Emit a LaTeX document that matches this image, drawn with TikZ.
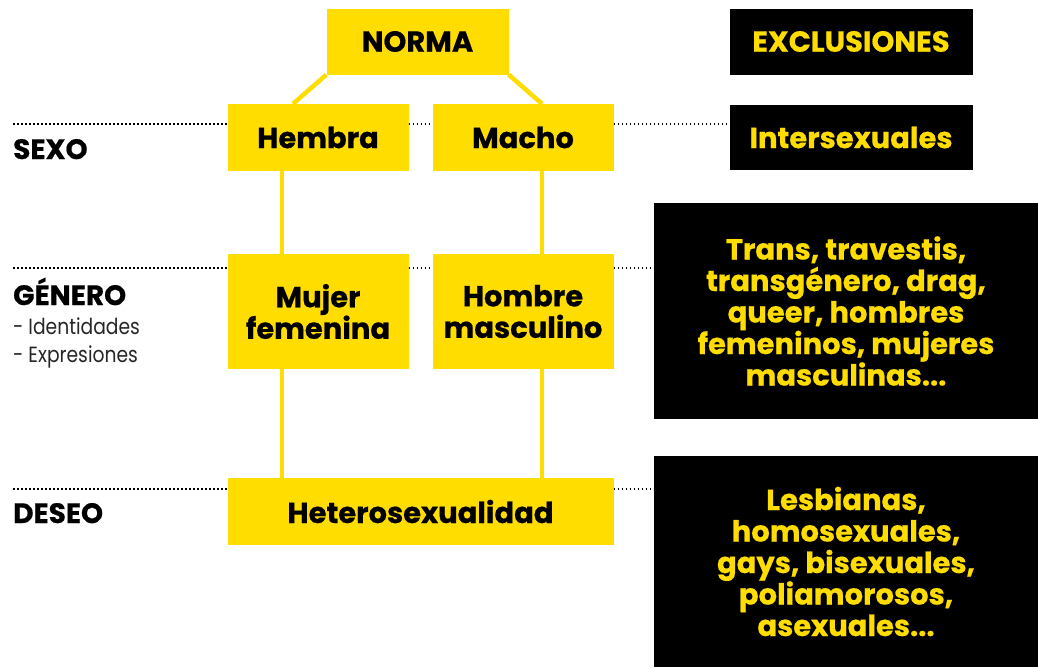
\documentclass[tikz,border=0pt]{standalone}
\usepackage{fontspec}
\setmainfont{Poppins}[BoldFeatures={FakeBold=0.6}]
\newfontfamily\finafont{Poppins}[FakeStretch=0.85]
\definecolor{amarillo}{RGB}{255,221,0}

\begin{document}
\begin{tikzpicture}[x=1pt,y=-1pt,
  normbox/.style={fill=amarillo, text=black, inner sep=0pt, align=center,
    font=\fontsize{29}{31.5}\selectfont\bfseries},
  exclbox/.style={fill=black, text=amarillo, inner sep=0pt, align=center,
    font=\fontsize{29}{31.5}\selectfont\bfseries},
  link/.style={draw=amarillo, line width=4.5pt},
  dots/.style={draw=black, line width=1.7pt, dash pattern=on 1.7pt off 2.3pt},
  level/.style={anchor=base west, inner sep=0pt, font=\fontsize{28}{30}\selectfont\bfseries},
  sublevel/.style={anchor=base west, inner sep=0pt, text=black!85, font=\fontsize{22}{24}\finafont}]
\useasboundingbox (0,0) rectangle (1038,667);

% la norma
\node[normbox, minimum width=182pt, minimum height=66pt] (norma) at (417.5,41.5) {NORMA};
\node[normbox, minimum width=181pt, minimum height=67pt] (hembra) at (318,137.5) {Hembra};
\node[normbox, minimum width=181pt, minimum height=67pt] (macho) at (523,137.5) {Macho};
\node[normbox, minimum width=181pt, minimum height=115pt] (mujer) at (318,311.5) {Mujer\\femenina};
\node[normbox, minimum width=181pt, minimum height=115pt] (hombre) at (523,311.5) {Hombre\\masculino};
\node[normbox, minimum width=386pt, minimum height=67pt] (hetero) at (420.5,511.5) {Heterosexualidad};

% exclusiones
\node[exclbox, minimum width=243pt, minimum height=66pt] (excl) at (851,41.5) {EXCLUSIONES};
\node[exclbox, minimum width=243pt, minimum height=65pt] (inter) at (851,137.5) {Intersexuales};
\node[exclbox, minimum width=384pt, minimum height=216pt] (trans) at (846,311)
  {Trans, travestis,\\transgénero, drag,\\queer, hombres\\femeninos, mujeres\\masculinas...};
\node[exclbox, minimum width=384pt, minimum height=211pt] (lesb) at (846,561.5)
  {Lesbianas,\\homosexuales,\\gays, bisexuales,\\poliamorosos,\\asexuales...};

% niveles
\node[level] (sexo) at (13,159) {SEXO};
\node[level] (genero) at (13,305) {GÉNERO};
\node[sublevel] (ident) at (13,334) {- Identidades};
\node[sublevel] (expr) at (13,362) {- Expresiones};
\node[level] (deseo) at (13,523) {DESEO};

% uniones
\draw[link] (norma.south west) -- ([xshift=-25pt]hembra.north);
\draw[link] (norma.south east) -- ([xshift=19pt]macho.north);
\draw[link] ([xshift=-36pt]hembra.south) -- ([xshift=-36pt]mujer.north);
\draw[link] ([xshift=19pt]macho.south) -- ([xshift=19pt]hombre.north);
\draw[link] ([xshift=-36pt]mujer.south) -- ([xshift=-36pt]mujer.south |- hetero.north);
\draw[link] ([xshift=19pt]hombre.south) -- ([xshift=19pt]hombre.south |- hetero.north);

% lineas punteadas
\coordinate (sx) at (13,124);
\coordinate (gn) at (13,268);
\coordinate (ds) at (13,489);
\draw[dots] (sx) -- (sx -| hembra.west);
\draw[dots] (sx -| hembra.east) -- (sx -| macho.west);
\draw[dots] (sx -| macho.east) -- (sx -| inter.west);
\draw[dots] (gn) -- (gn -| mujer.west);
\draw[dots] (gn -| mujer.east) -- (gn -| hombre.west);
\draw[dots] (gn -| hombre.east) -- (gn -| trans.west);
\draw[dots] (ds) -- (ds -| hetero.west);
\draw[dots] (ds -| hetero.east) -- (ds -| lesb.west);
\end{tikzpicture}
\end{document}
